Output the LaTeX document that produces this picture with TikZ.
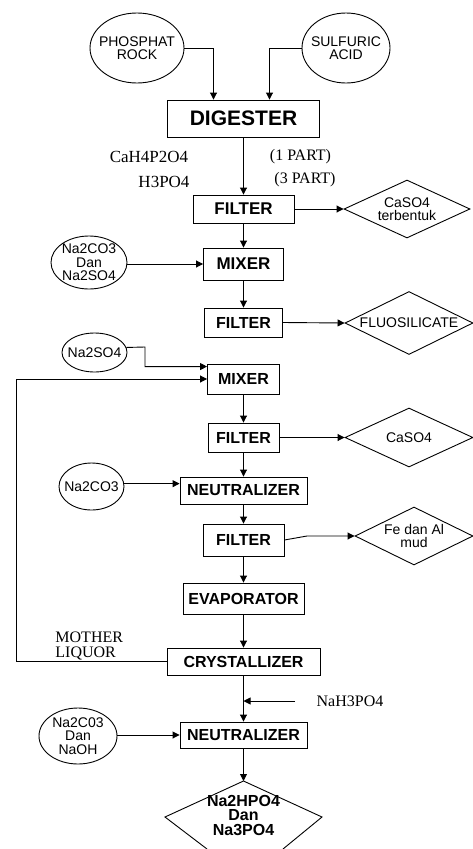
\documentclass[tikz,border=0pt]{standalone}
\usepackage{fontspec}
\setmainfont{Liberation Serif}
\newfontfamily\arial{Liberation Sans}
\usetikzlibrary{shapes.geometric,arrows.meta}
\begin{document}
\begin{tikzpicture}[x=1pt,y=-1pt, line width=0.9pt,
 arr/.style={-{Triangle[length=7pt,width=7pt]}},
 box/.style n args={2}{draw, rectangle, inner sep=0pt, minimum width=#1pt, minimum height=#2pt, font=\arial\bfseries\fontsize{16}{18}\selectfont},
 ell/.style n args={3}{draw, ellipse, inner sep=0pt, minimum width=#1pt, minimum height=#2pt, label={[font=\arial\fontsize{14}{13.5}\selectfont, align=center, inner sep=0pt]center:{#3}}},
 dia/.style n args={3}{draw, diamond, inner sep=0pt, minimum width=#1pt, minimum height=#2pt, label={[font=\arial\fontsize{14}{13.5}\selectfont, align=center, inner sep=0pt]center:{#3}}},
 serif/.style={font=\fontsize{16}{17}\selectfont, inner sep=0pt, align=left}
]
\useasboundingbox[fill=white] (0,0) rectangle (473,849);

% sources
\node[ell={94}{70}{PHOSPHAT\\ROCK}] (pr) at (137,48) {};
\node[ell={88}{70}{SULFURIC\\ACID}] (sa) at (346,48) {};

% main column
\node[box={152}{37}, font=\arial\bfseries\fontsize{21}{23}\selectfont] (dig) at (243.5,118.5) {DIGESTER};
\node[box={101}{28}, font=\arial\bfseries\fontsize{17}{19}\selectfont] (f1) at (243.5,209) {FILTER};
\node[box={80}{32}, font=\arial\bfseries\fontsize{17}{19}\selectfont] (m1) at (243.5,264) {MIXER};
\node[box={78}{29}] (f2) at (243.5,322.5) {FILTER};
\node[box={72}{30}] (m2) at (243.5,379) {MIXER};
\node[box={71}{29}] (f3) at (243.5,437.5) {FILTER};
\node[box={127}{27}] (n1) at (243.5,490.5) {NEUTRALIZER};
\node[box={81}{32}] (f4) at (243.5,540) {FILTER};
\node[box={121}{31}] (ev) at (243.5,598.5) {EVAPORATOR};
\node[box={153}{27}] (cr) at (243.5,661.5) {CRYSTALLIZER};
\node[box={127}{26}] (n2) at (243.5,735) {NEUTRALIZER};

% side inputs
\node[ell={76}{53}{Na2CO3\\Dan\\Na2SO4}] (nd) at (89,262.5) {};
\node[ell={65}{39}{Na2SO4}] (ns) at (94.5,352.5) {};
\node[ell={65}{47}{Na2CO3}] (nc) at (91.5,486.5) {};
\node[ell={78}{56}{Na2C03\\Dan\\NaOH}] (nn) at (78,736) {};

% side outputs
\node[dia={126}{58}{CaSO4\\terbentuk}] (cas1) at (407,209) {};
\node[dia={128}{63}{FLUOSILICATE}] (flu) at (409,323) {};
\node[dia={128}{59}{CaSO4}] (cas2) at (409,437.5) {};
\node[dia={118}{58}{Fe dan Al\\mud}] (fe) at (414,536) {};

% product
\node[font=\arial\bfseries\fontsize{16}{14.5}\selectfont, align=center, inner sep=0pt] (prod) at (243.5,815) {Na2HPO4\\Dan\\Na3PO4};
\coordinate (ptop) at (243.5,781);
\draw (207,849) -- (165,817) -- (ptop) -- (322,817) -- (283,849);

% text labels
\node[serif, font=\fontsize{17}{18}\selectfont] (t1) at (149,157) {CaH4P2O4};
\node[serif, font=\fontsize{17}{18}\selectfont] (t2) at (164,182) {H3PO4};
\node[serif] (t3) at (300.5,157) {(1 PART)};
\node[serif] (t4) at (305,180) {(3 PART)};
\node[serif, anchor=west, font=\fontsize{16}{15}\selectfont] (t5) at (55,645.5) {MOTHER\\LIQUOR};
\node[serif] (t6) at (350,701) {NaH3PO4};

% connectors
\draw[arr] (pr.east) -| ([xshift=-30pt]dig.north);
\draw[arr] (sa.west) -| ([xshift=26pt]dig.north);
\draw[arr] (dig.south) -- (f1.north);
\draw[arr] (f1.east) -- (cas1.west);
\draw[arr] (f1.south) -- (m1.north);
\draw[arr] (nd.east |- m1.west) -- (m1.west);
\draw[arr] (m1.south) -- (f2.north);
\draw[arr] (f2.east) -- (flu.west);
\draw[arr] (ns.9) -- (145,347) |- ([yshift=-3pt]m2.north west);
\coordinate (ml) at (16,661.5);
\draw[arr] (cr.west) -- (ml) |- (m2.west);
\draw[arr] (m2.south) -- (f3.north);
\draw[arr] (f3.east) -- (cas2.west);
\draw[arr] (f3.south) -- (n1.north);
\draw[arr] (nc.5) -- (nc.5 -| n1.west);
\draw[arr] (n1.south) -- (f4.north);
\coordinate (fk) at (307,536);
\draw[arr] (f4.east) -- (fk) -- (fe.west);
\draw[arr] (f4.south) -- (ev.north);
\draw[arr] (ev.south) -- (cr.north);
\draw[arr] (cr.south) -- (n2.north);
\coordinate (nahs) at (295,701);
\draw[arr] (nahs) -- (nahs -| cr.south);
\draw[arr] (nn.east |- n2.west) -- (n2.west);
\draw[arr] (n2.south) -- (ptop);
\end{tikzpicture}
\end{document}
